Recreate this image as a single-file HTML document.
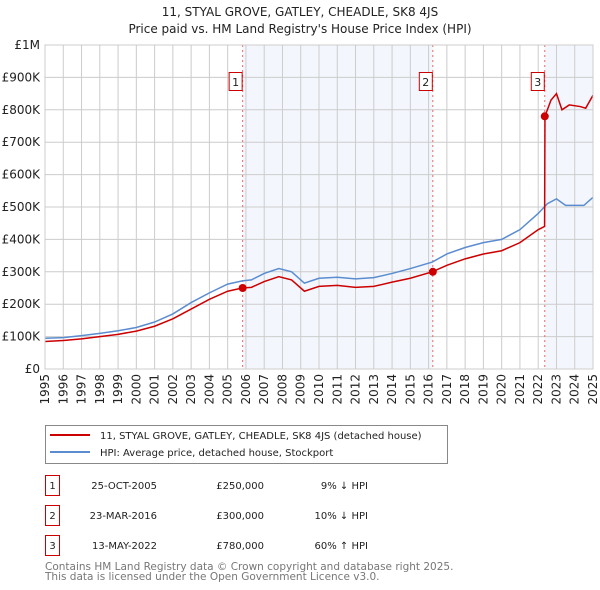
<!DOCTYPE html>
<html><head><meta charset="utf-8"><style>
body{margin:0;background:#fff;}
svg{display:block;font-family:"DejaVu Sans","Liberation Sans",sans-serif;}
</style></head><body>
<svg id="c" width="600" height="590" viewBox="0 0 600 590">
<text x="300" y="16" text-anchor="middle" font-size="12" fill="#222">11, STYAL GROVE, GATLEY, CHEADLE, SK8 4JS</text>
<text x="300" y="33" text-anchor="middle" font-size="12" fill="#222">Price paid vs. HM Land Registry's House Price Index (HPI)</text>
<g id="plot"></g>
<g>
<rect x="45.5" y="425.5" width="402" height="38" fill="#fff" stroke="#888"/>
<line x1="50" y1="435" x2="90" y2="435" stroke="#cc0000" stroke-width="2"/>
<text x="100" y="439" font-size="10" fill="#222">11, STYAL GROVE, GATLEY, CHEADLE, SK8 4JS (detached house)</text>
<line x1="50" y1="452" x2="90" y2="452" stroke="#5b8ccf" stroke-width="2"/>
<text x="100" y="456" font-size="10" fill="#222">HPI: Average price, detached house, Stockport</text>
</g>
<g font-size="10" fill="#222">
<rect x="45.5" y="475.5" width="14" height="20" fill="#fff" stroke="#cc0000"/><text x="52.5" y="489" text-anchor="middle">1</text>
<text x="157" y="489" text-anchor="end">25-OCT-2005</text><text x="264" y="489" text-anchor="end">£250,000</text><text x="368" y="489" text-anchor="end">9% ↓ HPI</text>
<rect x="45.5" y="505.5" width="14" height="20" fill="#fff" stroke="#cc0000"/><text x="52.5" y="519" text-anchor="middle">2</text>
<text x="157" y="519" text-anchor="end">23-MAR-2016</text><text x="264" y="519" text-anchor="end">£300,000</text><text x="368" y="519" text-anchor="end">10% ↓ HPI</text>
<rect x="45.5" y="535.5" width="14" height="20" fill="#fff" stroke="#cc0000"/><text x="52.5" y="549" text-anchor="middle">3</text>
<text x="157" y="549" text-anchor="end">13-MAY-2022</text><text x="264" y="549" text-anchor="end">£780,000</text><text x="368" y="549" text-anchor="end">60% ↑ HPI</text>
</g>
<text x="45" y="570" font-size="10.5" fill="#777">Contains HM Land Registry data © Crown copyright and database right 2025.</text>
<text x="45" y="580" font-size="10.5" fill="#777">This data is licensed under the Open Government Licence v3.0.</text>
</svg>
<script>
const hpiYears=[1995,1996,1997,1998,1999,2000,2001,2002,2003,2004,2005,2005.8,2006.3,2007,2007.8,2008.5,2009.2,2010,2011,2012,2013,2014,2015,2016.2,2017,2018,2019,2020,2021,2022,2022.5,2023,2023.5,2024,2024.5,2025];
const hpiValues=[95,97,103,110,118,128,145,170,205,235,262,272,275,295,310,300,265,280,283,278,282,295,310,330,355,375,390,400,430,480,510,525,505,505,505,530];
const propYears=[1995,1996,1997,1998,1999,2000,2001,2002,2003,2004,2005,2005.8,2006.3,2007,2007.8,2008.5,2009.2,2010,2011,2012,2013,2014,2015,2016.2,2017,2018,2019,2020,2021,2022,2022.35,2022.37,2022.7,2023,2023.3,2023.7,2024.3,2024.6,2025];
const propValues=[85,88,93,100,107,117,132,155,185,215,240,250,252,270,285,275,240,255,258,252,255,268,280,300,320,340,355,365,390,430,440,780,830,850,800,815,810,805,845];
const saleYears=[2005.82,2016.23,2022.36];
const saleValues=[250,300,780];
const saleLabels=["1","2","3"];
const yTicks=[0,100,200,300,400,500,600,700,800,900,1000];
const yTickLabels=["£0","£100K","£200K","£300K","£400K","£500K","£600K","£700K","£800K","£900K","£1M"];
const xTicks=[1995,1996,1997,1998,1999,2000,2001,2002,2003,2004,2005,2006,2007,2008,2009,2010,2011,2012,2013,2014,2015,2016,2017,2018,2019,2020,2021,2022,2023,2024,2025];
const X=y=>45+(y-1995)*(548/30), Y=v=>369-v*0.324;
const NS="http://www.w3.org/2000/svg", g=document.getElementById('plot');
function mk(t,a){const e=document.createElementNS(NS,t);for(const k in a)e.setAttribute(k,a[k]);g.appendChild(e);return e;}
let e;
e=mk('rect',{x:X(saleYears[0]),y:45,width:X(saleYears[1])-X(saleYears[0]),height:324,fill:'#eef3fc',opacity:0.7});


e=mk('rect',{x:X(saleYears[2]),y:45,width:X(2025)-X(saleYears[2]),height:324,fill:'#eef3fc',opacity:0.7});


yTicks.forEach((v,i)=>{
 e=mk('line',{x1:45,x2:593,y1:Y(v),y2:Y(v),stroke:'#ccc'});
 
 
 e=mk('text',{x:40,y:Y(v)+4,'text-anchor':'end','font-size':12,fill:'#222'});e.textContent=yTickLabels[i];
 
 
});
xTicks.forEach(y=>{
 e=mk('line',{x1:X(y),x2:X(y),y1:45,y2:369,stroke:'#ccc'});
 
 
 e=mk('text',{x:0,y:0,'text-anchor':'end','font-size':12,fill:'#222',transform:'translate('+(X(y)+4)+',374) rotate(-90)'});e.textContent=y;
 
 
});
saleYears.forEach((s,i)=>{
 e=mk('line',{x1:X(s),x2:X(s),y1:45,y2:369,stroke:'#e66','stroke-dasharray':'2,3'});
 
 
 e=mk('rect',{x:X(s)-13.5,y:72.5,width:13,height:18,fill:'#fff',stroke:'#cc0000'});
 
 
 e=mk('text',{x:X(s)-7,y:86,'text-anchor':'middle','font-size':11,fill:'#222'});e.textContent=saleLabels[i];
 
 
});
e=mk('polyline',{points:hpiYears.map((y,i)=>X(y)+','+Y(hpiValues[i])).join(' '),fill:'none',stroke:'#5b8ccf','stroke-width':1.5});


e=mk('polyline',{points:propYears.map((y,i)=>X(y)+','+Y(propValues[i])).join(' '),fill:'none',stroke:'#cc0000','stroke-width':1.5});


saleYears.forEach((s,i)=>{
 e=mk('circle',{cx:X(s),cy:Y(saleValues[i]),r:4,fill:'#cc0000'});
 
 
});
e=mk('rect',{x:45,y:45,width:548,height:324,fill:'none',stroke:'#ccc'});


</script>
</body></html>
